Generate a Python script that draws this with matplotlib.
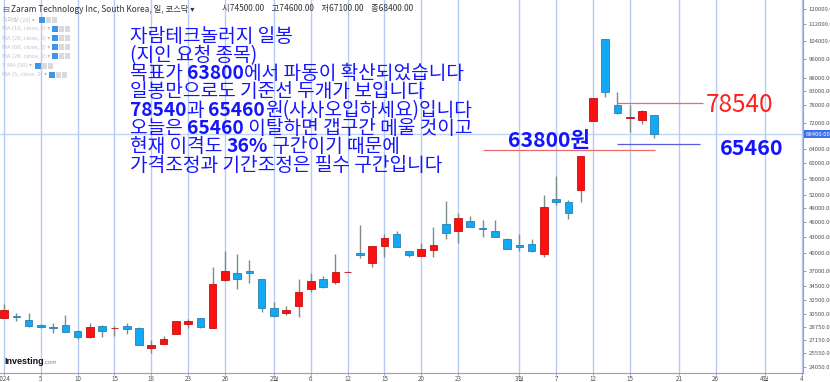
import matplotlib
matplotlib.use('Agg')
import matplotlib.pyplot as plt
from matplotlib.patches import Rectangle
from matplotlib.ticker import NullLocator
import numpy as np

plt.rcParams['font.family'] = ['Noto Sans CJK KR', 'DejaVu Sans']

# daily candles, 2024-01-02 .. 2024-03-19
opens = [30000, 30150, 29700, 28950, 28800, 28970, 28200, 27460, 28940, 28600,
         28900, 28640, 26210, 26650, 27880, 29110, 29960, 28640, 35440, 36600,
         37050, 35670, 31380, 30680, 31640, 34150, 35630, 35190, 36800, 40050,
         38290, 41300, 43640, 40360, 39590, 40720, 45590, 44330, 46330, 44800,
         44330, 42670, 41590, 41650, 39950, 51130, 50360, 53130, 72650, 104940,
         78000, 73600, 72980, 74500]
highs = [31900, 30600, 30650, 29150, 29250, 30400, 28380, 29320, 28980, 28940,
         29240, 28700, 27110, 27660, 29570, 29820, 30000, 37600, 40420, 39950,
         38880, 35700, 32150, 31530, 35630, 36720, 36100, 39820, 36900, 45450,
         41410, 43720, 44240, 40400, 41900, 44980, 50570, 47910, 47270, 46470,
         46470, 42800, 43580, 42670, 51930, 56580, 50980, 62100, 80600, 105000,
         82620, 78100, 76270, 74600]
lows = [29950, 29600, 28750, 28650, 27950, 28080, 27230, 27400, 27460, 27660,
        27880, 26500, 25550, 26600, 27850, 28640, 28640, 28600, 35300, 34150,
        35080, 30720, 30040, 30400, 30040, 33620, 34300, 34800, 36750, 39230,
        37700, 39340, 41100, 39340, 39500, 39340, 42670, 42000, 45000, 43070,
        43000, 40800, 40420, 40180, 39340, 49790, 46660, 50360, 72600, 80700,
        74900, 69200, 71550, 67100]
closes = [31000, 30100, 28900, 28700, 28620, 28130, 27460, 28800, 28200, 28680,
          28500, 26570, 26480, 27230, 29500, 29560, 28810, 34810, 36930, 35740,
          36650, 31380, 30270, 31100, 33580, 35390, 34410, 36880, 36850, 39780,
          41410, 42940, 41170, 39700, 40780, 41590, 43920, 46960, 45100, 44700,
          43070, 40900, 41270, 40360, 49290, 50360, 47910, 62090, 80600, 82630,
          75100, 73800, 75930, 68400]

date_pos = [0, 3, 6, 9, 12, 15, 18, 22, 25, 28, 31, 34, 37, 42, 45, 48, 51, 55, 58, 62, 65]
date_labels = ['2024', '5', '10', '15', '18', '23', '26', '2월', '6', '12', '15', '20',
               '23', '3월', '7', '12', '15', '21', '26', '4월', '4']
price_ticks = [120000, 112000, 104000, 96000, 88000, 83000, 78000, 72000, 64000,
               60000, 56000, 52000, 49000, 46000, 43000, 40000, 37000, 34500,
               32500, 30500, 28750, 27150, 25550, 24050]
last_price = 68400
level_hi = 78540
level_lo = 65460
target = 63800

title = 'Zaram Technology Inc, South Korea, 일, 코스닥 ▾'
ohlc = '시74500.00    고74600.00    저67100.00    종68400.00'
indicators = ['거래량 (20) ▾', 'MA (10, close, 0) ▾', 'MA (20, close, 0) ▾', 'MA (60, close, 0) ▾',
              'MA (26, close, 0) ▾', 'T MA (50) ▾', 'MA (5, close, 0) ▾']
note_lines = [
    [('자람테크놀러지 일봉', False)],
    [('(지인 요청 종목)', False)],
    [('목표가 ', False), ('63800', True), ('에서 파동이 확산되었습니다', False)],
    [('일봉만으로도 기준선 두개가 보입니다', False)],
    [('78540', True), ('과 ', False), ('65460', True), ('원(사사오입하세요)입니다', False)],
    [('오늘은 ', False), ('65460', True), (' 이탈하면 갭구간 메울 것이고', False)],
    [('현재 이격도 ', False), ('36%', True), (' 구간이기 때문에', False)],
    [('가격조정과 기간조정은 필수 구간입니다', False)],
]

W, H = 830, 382
def fx(px): return px / W
def fy(py): return 1 - py / H

fig = plt.figure(figsize=(8.3, 3.82), dpi=100)
ax = fig.add_axes([0, 9 / H, 803 / W, 1 - 9 / H])
ax.set_yscale('log')
ax.set_ylim(23380, 124950)
ax.set_xlim(-0.33, 65.12)

x = np.arange(len(opens))
o = np.array(opens, float)
c = np.array(closes, float)
up = c >= o
body = np.where(up, '#ff1010', '#12a8f5')
edge = np.where(up, '#c01010', '#2a80b0')
ax.vlines(x, lows, highs, color='#7d8b8b', lw=1, zorder=2)
ax.bar(x, np.abs(c - o), bottom=np.minimum(o, c), width=0.62, color=body,
       edgecolor=edge, linewidth=0.6, zorder=3)

# grid / price lines
ax.set_xticks(date_pos)
ax.set_xticklabels(date_labels)
ax.grid(axis='x', color='#b5cdf5', lw=1, zorder=0)
ax.axhline(last_price, color='#c0d4f5', lw=1, zorder=1)
ax.hlines(level_hi, 50.0, 57.0, color='#ee6a6a', lw=0.9, zorder=4)
ax.hlines(target, 39.0, 53.05, color='#ee6a6a', lw=0.9, zorder=4)
ax.hlines(level_lo, 50.0, 56.7, color='#5c5ce0', lw=0.9, zorder=4)

ax.yaxis.tick_right()
ax.set_yticks(price_ticks)
ax.set_yticklabels([f'{v:.2f}' for v in price_ticks])
ax.yaxis.set_minor_locator(NullLocator())
ax.tick_params(axis='y', labelsize=4.3, colors='#888888', labelcolor='#555555', length=2, pad=2, width=0.6)
ax.tick_params(axis='x', labelsize=4.5, colors='#888888', labelcolor='#555555', length=1.2, pad=0.3, width=0.6)
for s in ['top', 'left']:
    ax.spines[s].set_visible(False)
for s in ['right', 'bottom']:
    ax.spines[s].set_color('#a0a0a0')
    ax.spines[s].set_linewidth(0.8)

ax.text(1.003, last_price, f'{last_price:.2f}', transform=ax.get_yaxis_transform(),
        ha='left', va='center', fontsize=4.3, color='white',
        bbox=dict(boxstyle='square,pad=0.3', fc='#3d6ef0', ec='none'))

# header
fig.text(fx(2), fy(9), '⊟', fontsize=6, color='#666666', va='center', family='DejaVu Sans')
fig.text(fx(11), fy(9), title, fontsize=6, color='#333333', va='center')
fig.text(fx(222), fy(9), ohlc, fontsize=6, color='#333333', va='center')
icon_x = [39, 52, 52, 52, 52, 35, 49]
for k, lab in enumerate(indicators):
    yc = 19.5 + 9.2 * k
    fig.text(fx(2), fy(yc), lab, fontsize=4.3, color='#c4c4c4', va='center')
    fig.add_artist(Rectangle((fx(icon_x[k]), fy(yc + 3)), 5.7 / W, 6 / H, transform=fig.transFigure,
                             fc='#3f95e8', ec='none'))
    for j in (1, 2):
        fig.add_artist(Rectangle((fx(icon_x[k] + 6.6 * j), fy(yc + 3)), 5.2 / W, 6 / H,
                                 transform=fig.transFigure, fc='#dadada', ec='none'))

# annotation text
def rich_line(x_px, y_px, parts, size, color):
    t = None
    for s, bold in parts:
        w = 'bold' if bold else 'normal'
        if t is None:
            t = fig.text(fx(x_px), fy(y_px), s, fontsize=size, fontweight=w,
                         color=color, va='center', ha='left', zorder=6)
        else:
            t = ax.annotate(s, xy=(1, 0.5), xycoords=t, fontsize=size, fontweight=w,
                            color=color, va='center', ha='left', zorder=6)
    return t

for k, parts in enumerate(note_lines):
    rich_line(130, 37 + 18.3 * k, parts, 13.8, '#1414ff')

fig.text(fx(508), fy(140), f'{target}원', fontsize=15.3, fontweight='bold', color='#1414ff', va='center')
fig.text(fx(706), fy(105), f'{level_hi}', fontsize=17.5, color='#ff2020', va='center')
fig.text(fx(720), fy(148), f'{level_lo}', fontsize=15.5, fontweight='bold', color='#1414ff', va='center')

# logo
t = fig.text(fx(4), fy(362), 'Investing', fontsize=6.5, fontweight='bold', color='#111111',
             va='center', family='Liberation Sans')
ax.annotate('.com', xy=(1, 0.5), xycoords=t, fontsize=4.5, color='#888888', va='center',
            family='Liberation Sans')

fig.savefig('out.png', dpi=100)
